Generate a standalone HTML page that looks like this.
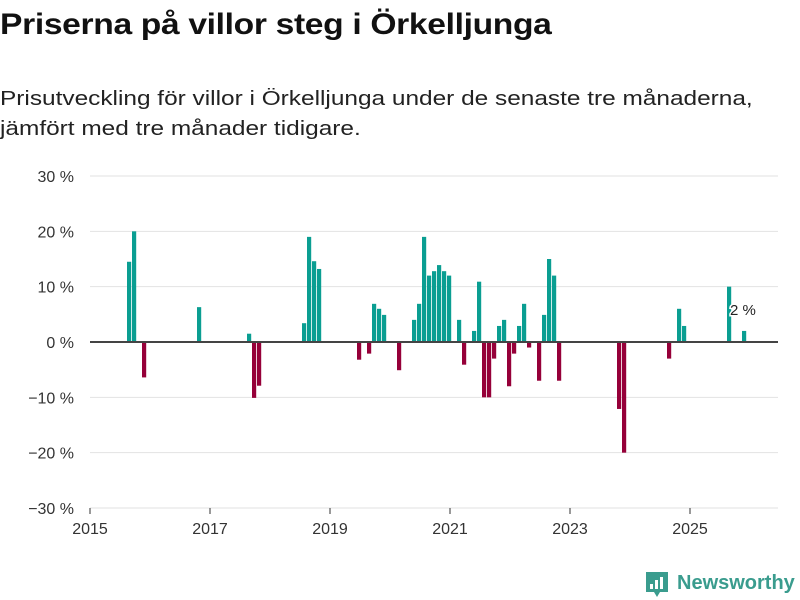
<!DOCTYPE html>
<html><head><meta charset="utf-8"><style>
body{margin:0;background:#fff;font-family:"Liberation Sans",sans-serif;}
#wrap{position:relative;width:800px;height:600px;overflow:hidden;}
h1{position:absolute;left:0;top:8px;margin:0;font-size:30px;font-weight:bold;color:#111;letter-spacing:-0.3px;transform:scaleX(1.12);transform-origin:0 0;white-space:nowrap}
p{position:absolute;left:0;top:84px;margin:0;font-size:20px;line-height:30px;color:#222;transform:scaleX(1.22);transform-origin:0 0;white-space:nowrap}
</style></head><body>
<div id="wrap">
<h1>Priserna på villor steg i Örkelljunga</h1>
<p>Prisutveckling för villor i Örkelljunga under de senaste tre månaderna,<br>jämfört med tre månader tidigare.</p>
<svg id="chart" width="800" height="600" style="position:absolute;left:0;top:0"></svg>
</div>
<script>
const months=[7,8,10,21,31,32,33,42,43,44,45,53,55,56,57,58,61,64,65,66,67,68,69,70,71,73,74,76,77,78,79,80,81,82,83,84,85,86,87,89,90,91,92,93,105,106,115,117,118,127,130];
const values=[14.5,20,-6.4,6.3,1.5,-10.1,-7.9,3.4,19,14.6,13.2,-3.2,-2.1,6.9,6,4.9,-5.1,4,6.9,19,12,12.8,13.9,12.8,12,4,-4.1,2,10.9,-10,-10,-3,2.9,4,-8,-2.1,2.9,6.9,-1,-7,4.9,15,12,-7,-12.1,-20,-3,6,2.9,10,2];
const yTicks=[30,20,10,0,-10,-20,-30];
const yTickLabels=["30 %","20 %","10 %","0 %","−10 %","−20 %","−30 %"];
const xTicks=[2015,2017,2019,2021,2023,2025];
const lastLabel="2 %";
const NS="http://www.w3.org/2000/svg";
const svg=document.getElementById('chart');
const y=v=>342-v*5.533;
const xm=m=>92+5*m;
const xy=yr=>90+(yr-2015)*60;
function el(t,a){const e=document.createElementNS(NS,t);for(const k in a)e.setAttribute(k,a[k]);svg.appendChild(e);return e;}
yTicks.forEach((v,i)=>{
 if(v!==0){const g=el('line',{x1:90,x2:778,y1:y(v),y2:y(v),stroke:'#e2e2e2','stroke-width':1});
 
 }
 const t=el('text',{x:74,y:y(v)+6,'text-anchor':'end','font-size':16,fill:'#333'});t.textContent=yTickLabels[i];
 
 
});
xTicks.forEach(yr=>{
 const l=el('line',{x1:xy(yr),x2:xy(yr),y1:508,y2:514,stroke:'#333'});
 
 
 const t=el('text',{x:xy(yr),y:534,'text-anchor':'middle','font-size':16,fill:'#333'});t.textContent=yr;
 
 
});
months.forEach((m,i)=>{
 const v=values[i];
 const r=el('rect',{x:xm(m),width:4.2,y:Math.min(y(v),y(0)),height:Math.abs(y(v)-y(0)),fill:v>=0?'#0a9e92':'#960039'});
 
 
});
const z=el('line',{x1:90,x2:778,y1:y(0),y2:y(0),stroke:'#444','stroke-width':2});


const lm=months[months.length-2];
const lab=el('text',{x:xm(lm)+3,y:y(values[values.length-1])-16,'font-size':15,fill:'#222',stroke:'#fff','stroke-width':3,'paint-order':'stroke'});
lab.textContent=lastLabel;


const g=el('g',{});


const ic=document.createElementNS(NS,'path');ic.setAttribute('d','M646 572h22v20h-8l-3 5-3-5h-8z');ic.setAttribute('fill','#3a9c8e');g.appendChild(ic);
[[650,584,3,5],[655,580,3,9],[660,577,3,12]].forEach(b=>{const r=document.createElementNS(NS,'rect');r.setAttribute('x',b[0]);r.setAttribute('y',b[1]);r.setAttribute('width',b[2]);r.setAttribute('height',b[3]);r.setAttribute('fill','#fff');g.appendChild(r);});
const lt=document.createElementNS(NS,'text');lt.setAttribute('x',677);lt.setAttribute('y',589);lt.setAttribute('font-size',20);lt.setAttribute('font-weight','bold');lt.setAttribute('fill','#3a9c8e');lt.textContent='Newsworthy';g.appendChild(lt);
</script>
</body></html>
